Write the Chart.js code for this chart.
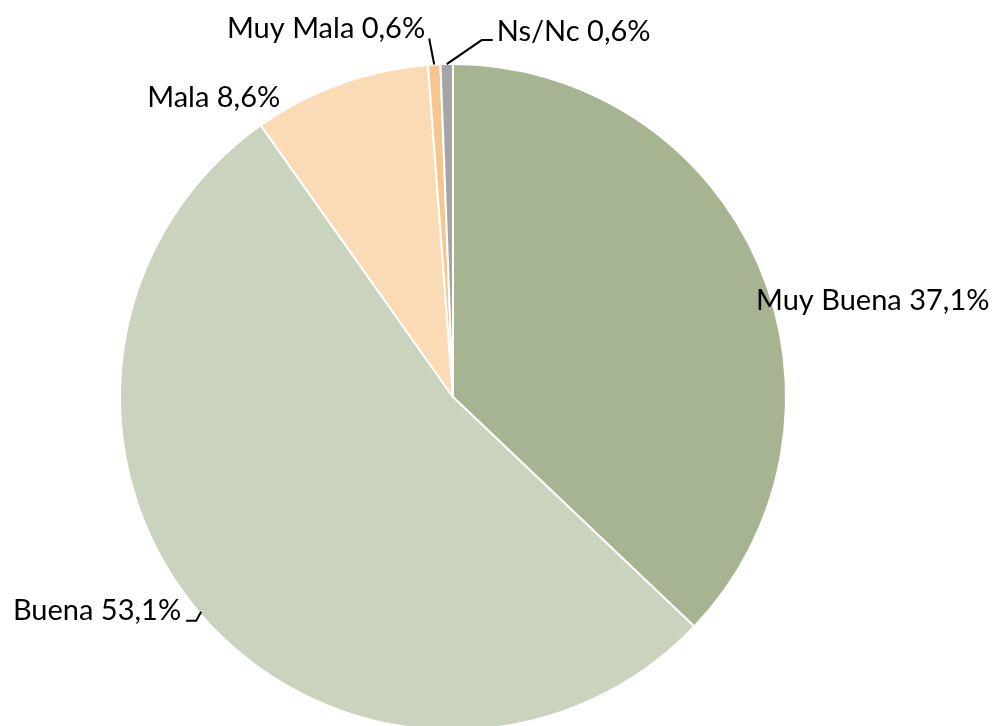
<!DOCTYPE html>
<html>
<head>
<meta charset="utf-8">
<script src="https://cdn.jsdelivr.net/npm/chart.js@4/dist/chart.umd.min.js"></script>
<style>
  html, body { margin: 0; padding: 0; background: #ffffff; overflow: hidden; }
  #wrap { width: 993px; height: 794px; }
</style>
</head>
<body>
<div id="wrap"><canvas id="c" width="993" height="794"></canvas></div>
<script>
// ---- data ----
const categories = ["Muy Buena", "Buena", "Mala", "Muy Mala", "Ns/Nc"];
const values = [37.1, 53.1, 8.6, 0.6, 0.6];
const colors = ["#A6B492", "#C9D3BE", "#FADBB5", "#F5C78F", "#A5A5A5"];

// ---- label placement (style, relative to slice edge at mid-angle) ----
const labelLayout = [
  { dx: -3,  dy: 35,  align: "left",  line: null },
  { dx: -20, dy: -4,  align: "right", line: [[0, -3], [-5, 6], [-15, 6]] },
  { dx: -60, dy: 14,  align: "right", line: null },
  { dx: -9,  dy: -36, align: "right", line: [[0, 0], [-5, -26]] },
  { dx: 50,  dy: -32, align: "left",  line: [[0, 0], [35, -24], [46, -24]] }
];

const fmt = v => v.toFixed(1).replace(".", ",") + "%";

const labelPlugin = {
  id: "pieLabels",
  afterDatasetsDraw(chart) {
    const ctx = chart.ctx;
    const meta = chart.getDatasetMeta(0);
    ctx.save();
    ctx.font = "29px Lato";
    ctx.fillStyle = "#000000";
    ctx.strokeStyle = "#000000";
    ctx.lineWidth = 2;
    meta.data.forEach((arc, i) => {
      const p = arc.getProps(["x", "y", "startAngle", "endAngle", "outerRadius"], true);
      const mid = (p.startAngle + p.endAngle) / 2;
      const ex = p.x + Math.cos(mid) * p.outerRadius;
      const ey = p.y + Math.sin(mid) * p.outerRadius;
      const L = labelLayout[i];
      if (L.line) {
        ctx.beginPath();
        L.line.forEach((pt, k) => {
          if (k === 0) ctx.moveTo(ex + pt[0], ey + pt[1]);
          else ctx.lineTo(ex + pt[0], ey + pt[1]);
        });
        ctx.stroke();
      }
      ctx.textAlign = L.align;
      ctx.textBaseline = "middle";
      ctx.fillText(categories[i] + " " + fmt(values[i]), ex + L.dx, ey + L.dy);
    });
    ctx.restore();
  }
};

new Chart(document.getElementById("c"), {
  type: "pie",
  data: {
    labels: categories,
    datasets: [{
      data: values,
      backgroundColor: colors,
      borderColor: "#ffffff",
      borderWidth: 2
    }]
  },
  options: {
    responsive: false,
    animation: false,
    layout: { padding: { top: 63, bottom: 63, left: 0, right: 87 } },
    plugins: {
      legend: { display: false },
      tooltip: { enabled: false }
    }
  },
  plugins: [labelPlugin]
});
</script>
</body>
</html>
